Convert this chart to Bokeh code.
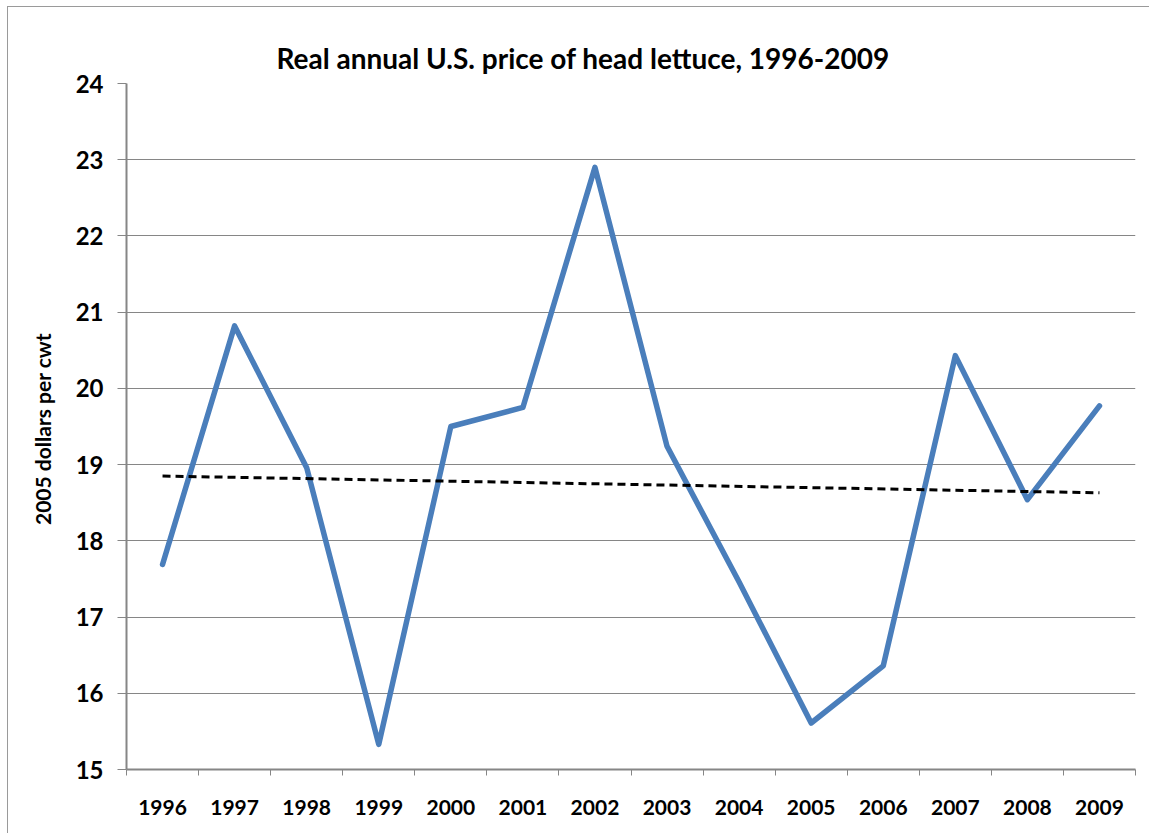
from bokeh.plotting import figure
from bokeh.embed import file_html
from bokeh.resources import INLINE
from bokeh.models import FixedTicker, Range1d, Title

years = [1996, 1997, 1998, 1999, 2000, 2001, 2002, 2003, 2004, 2005, 2006, 2007, 2008, 2009]
prices = [17.69, 20.82, 18.96, 15.33, 19.50, 19.75, 22.90, 19.24, 17.46, 15.61, 16.36, 20.43, 18.54, 19.77]
trend_years = [1996, 2009]
trend_values = [18.85, 18.63]
y_ticks = [15, 16, 17, 18, 19, 20, 21, 22, 23, 24]
title_text = "Real annual U.S. price of head lettuce, 1996-2009"
y_label = "2005  dollars per cwt"

FONT = "Lato"
GRAY = "#868686"

p = figure(width=1142, height=827, output_backend="svg", toolbar_location=None,
           x_range=Range1d(years[0] - 0.5, years[-1] + 0.5),
           y_range=Range1d(y_ticks[0], y_ticks[-1]))
p.margin = (6, 0, 0, 7)
p.styles = {"border-left": "1px solid #9a9a9a", "border-top": "1px solid #9a9a9a"}
p.min_border_left = 118
p.min_border_right = 15
p.min_border_top = 76
p.min_border_bottom = 65
p.outline_line_color = None
p.background_fill_color = "white"
p.border_fill_color = "white"

t = Title(text=title_text, align="left", offset=150, text_font=FONT,
          text_font_size="28px", text_font_style="bold", text_color="black")
p.title = t
p.title.standoff = 18

# main line
p.line(years, prices, line_color="#4a7ebb", line_width=5.5, line_join="round", line_cap="round")
# trend
p.line(trend_years, trend_values, line_color="black", line_width=3, line_dash="8 5")

# x axis
minor = [y - 0.5 for y in years] + [years[-1] + 0.5]
p.xaxis.ticker = FixedTicker(ticks=years, minor_ticks=minor)
p.xaxis.major_label_overrides = {y: str(y) for y in years}
p.xaxis.major_tick_out = 0
p.xaxis.major_tick_in = 0
p.xaxis.minor_tick_out = 6
p.xaxis.minor_tick_in = 0
p.xaxis.minor_tick_line_color = GRAY
p.xaxis.axis_line_color = GRAY
p.xaxis.axis_line_width = 2
p.xaxis.major_label_standoff = 24
p.xaxis.major_label_text_font = FONT
p.xaxis.major_label_text_font_style = "bold"
p.xaxis.major_label_text_font_size = "21px"
p.xaxis.major_label_text_color = "black"

# y axis
p.yaxis.ticker = FixedTicker(ticks=y_ticks)
p.yaxis.major_label_overrides = {v: str(v) for v in y_ticks}
p.yaxis.major_tick_out = 9
p.yaxis.major_tick_in = 0
p.yaxis.minor_tick_out = 0
p.yaxis.minor_tick_in = 0
p.yaxis.major_tick_line_color = GRAY
p.yaxis.axis_line_color = GRAY
p.yaxis.axis_line_width = 2
p.yaxis.major_label_standoff = 14
p.yaxis.major_label_text_font = FONT
p.yaxis.major_label_text_font_style = "bold"
p.yaxis.major_label_text_font_size = "24px"
p.yaxis.major_label_text_color = "black"
p.yaxis.axis_label = y_label
p.yaxis.axis_label_text_font = FONT
p.yaxis.axis_label_text_font_style = "bold"
p.yaxis.axis_label_text_font_size = "21px"
p.yaxis.axis_label_text_color = "black"
p.yaxis.axis_label_standoff = 18

p.xgrid.grid_line_color = None
p.ygrid.grid_line_color = GRAY
p.ygrid.grid_line_width = 1

open("out.html", "w").write(file_html(p, INLINE))
